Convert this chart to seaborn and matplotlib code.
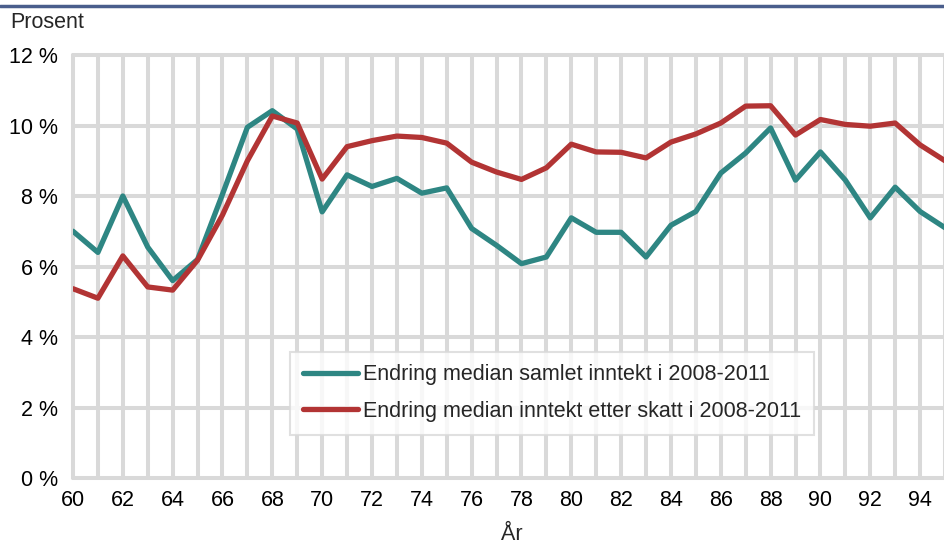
import matplotlib
matplotlib.use("Agg")
import matplotlib.pyplot as plt
import seaborn as sns
import pandas as pd
from matplotlib.lines import Line2D

years = list(range(60, 96))
samlet = [7.0, 6.4, 8.0, 6.55, 5.6, 6.2, 8.05, 9.95, 10.42, 9.9, 7.55, 8.6,
          8.27, 8.5, 8.08, 8.23, 7.08, 6.6, 6.08, 6.27, 7.38, 6.97, 6.97, 6.27,
          7.17, 7.56, 8.65, 9.22, 9.93, 8.45, 9.25, 8.45, 7.38, 8.25, 7.56, 7.1]
etter_skatt = [5.37, 5.1, 6.3, 5.42, 5.33, 6.18, 7.46, 9.0, 10.27, 10.07, 8.48, 9.4,
               9.57, 9.7, 9.66, 9.5, 8.96, 8.68, 8.47, 8.8, 9.47, 9.25, 9.24, 9.08,
               9.53, 9.76, 10.07, 10.55, 10.56, 9.73, 10.17, 10.03, 9.98, 10.07, 9.45, 9.0]
series_names = ["Endring median samlet inntekt i 2008-2011",
                "Endring median inntekt etter skatt i 2008-2011"]
colors = ["#2E8683", "#B23434"]
y_ticks = [0, 2, 4, 6, 8, 10, 12]
y_labels = ["0 %", "2 %", "4 %", "6 %", "8 %", "10 %", "12 %"]
x_ticks = list(range(60, 96, 2))

df = pd.DataFrame({
    "year": years * 2,
    "value": samlet + etter_skatt,
    "series": [series_names[0]] * len(years) + [series_names[1]] * len(years),
})

sns.set_theme(style="white")
plt.rcParams["font.family"] = ["Liberation Sans", "DejaVu Sans"]
fs = 15.5

fig = plt.figure(figsize=(9.45, 5.45), dpi=100)
ax = fig.add_axes([73 / 945, 67 / 545, 1 - 73 / 945, 423 / 545])

sns.lineplot(data=df, x="year", y="value", hue="series", palette=colors,
             linewidth=3.8, ax=ax, legend=False, zorder=3)

ax.set_xlim(60, 94.67)
ax.set_ylim(0, 12)
ax.set_xticks(x_ticks)
ax.set_yticks(y_ticks)
ax.set_yticklabels(y_labels)
ax.set_xticks(years, minor=True)
ax.tick_params(axis="both", which="both", length=0, labelsize=fs, colors="#000000")
ax.tick_params(axis="y", pad=11)
ax.tick_params(axis="x", pad=9)
ax.grid(True, which="both", axis="x", color="#D9D9D9", linewidth=2.9)
ax.grid(True, which="major", axis="y", color="#D9D9D9", linewidth=2.9)
for t in (ax.xaxis.get_major_ticks() + ax.xaxis.get_minor_ticks()
          + ax.yaxis.get_major_ticks()):
    t.gridline.set_clip_on(False)
ax.set_axisbelow(True)
for s in ax.spines.values():
    s.set_visible(False)
ax.set_xlabel("")
ax.set_ylabel("")

handles = [Line2D([0], [0], color=c, linewidth=3.8) for c in colors]
leg = ax.legend(handles, series_names, loc="lower left", bbox_to_anchor=(0.249, 0.102),
                frameon=True, fancybox=False, fontsize=fs, handlelength=2.55,
                borderpad=0.6, labelspacing=0.72, handletextpad=0.25, borderaxespad=0)
leg.get_frame().set_edgecolor("#D9D9D9")
leg.get_frame().set_linewidth(1.5)

fig.text(10 / 945, 1 - 22 / 545, "Prosent", fontsize=fs, va="center", ha="left")
fig.text(512 / 945, 1 - 534 / 545, "År", fontsize=fs, va="center", ha="center")
fig.add_artist(Line2D([0, 1], [1 - 6 / 545, 1 - 6 / 545], color="#4A5E8C", linewidth=2.5))

fig.savefig("out.png", dpi=100)
